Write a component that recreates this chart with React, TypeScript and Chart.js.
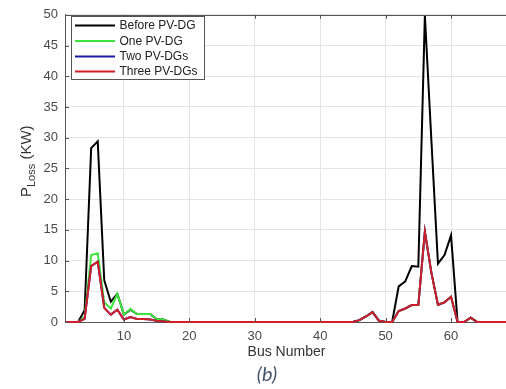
import React, { useEffect, useRef } from 'react';
import { Chart, registerables } from 'chart.js';

Chart.register(...registerables);

const busNumbers = [
  1, 2, 3, 4, 5, 6, 7, 8, 9, 10, 11, 12, 13, 14, 15, 16, 17, 18, 19, 20,
  21, 22, 23, 24, 25, 26, 27, 28, 29, 30, 31, 32, 33, 34, 35, 36, 37, 38, 39, 40,
  41, 42, 43, 44, 45, 46, 47, 48, 49, 50, 51, 52, 53, 54, 55, 56, 57, 58, 59, 60,
  61, 62, 63, 64, 65, 66, 67, 68, 69,
];

const beforePVDG = [
  0, 0, 0, 1.9, 28.3, 29.4, 6.8, 3.3, 4.6, 1.2, 2.0, 1.3, 1.3, 1.3, 0.5, 0.4, 0.05, 0, 0, 0,
  0, 0, 0, 0, 0, 0, 0, 0, 0, 0, 0, 0, 0, 0, 0, 0, 0, 0, 0, 0,
  0, 0, 0, 0, 0, 0.3, 0.9, 1.6, 0.2, 0, 0, 5.8, 6.6, 9.1, 9.0, 49.9, 29.5, 9.5, 10.9, 14.1,
  0, 0, 0.7, 0, 0, 0, 0, 0, 0,
];

const onePVDG = [
  0, 0, 0, 0.8, 10.9, 11.2, 3.2, 2.2, 4.6, 1.2, 2.1, 1.3, 1.3, 1.3, 0.5, 0.4, 0.05, 0, 0, 0,
  0, 0, 0, 0, 0, 0, 0, 0, 0, 0, 0, 0, 0, 0, 0, 0, 0, 0, 0, 0,
  0, 0, 0, 0, 0, 0.3, 0.9, 1.6, 0.2, 0, 0, 1.8, 2.2, 2.75, 2.75, 14.7, 8.0, 2.8, 3.2, 4.1,
  0, 0, 0.7, 0, 0, 0, 0, 0, 0,
];

const twoPVDGs = [
  0, 0, 0, 0.5, 9.1, 9.8, 2.3, 1.2, 2.0, 0.4, 0.8, 0.5, 0.5, 0.4, 0.2, 0.1, 0, 0, 0, 0,
  0, 0, 0, 0, 0, 0, 0, 0, 0, 0, 0, 0, 0, 0, 0, 0, 0, 0, 0, 0,
  0, 0, 0, 0, 0, 0.3, 0.9, 1.6, 0.2, 0, 0, 1.8, 2.2, 2.75, 2.75, 14.7, 8.0, 2.8, 3.2, 4.1,
  0, 0, 0.7, 0, 0, 0, 0, 0, 0,
];

const threePVDGs = [
  0, 0, 0, 0.5, 9.1, 9.8, 2.3, 1.2, 2.0, 0.4, 0.8, 0.5, 0.5, 0.4, 0.2, 0.1, 0, 0, 0, 0,
  0, 0, 0, 0, 0, 0, 0, 0, 0, 0, 0, 0, 0, 0, 0, 0, 0, 0, 0, 0,
  0, 0, 0, 0, 0, 0.3, 0.9, 1.6, 0.2, 0, 0, 1.8, 2.2, 2.75, 2.75, 14.7, 8.0, 2.8, 3.2, 4.1,
  0, 0, 0.7, 0, 0, 0, 0, 0, 0,
];

const xTickValues = [10, 20, 30, 40, 50, 60];
const yTickValues = [0, 5, 10, 15, 20, 25, 30, 35, 40, 45, 50];
const seriesLabels = ['Before PV-DG', 'One PV-DG', 'Two PV-DGs', 'Three PV-DGs'];
const seriesColors = ['#000000', '#3ce33c', '#1a1aa6', '#d11f29'];
const seriesValues = [beforePVDG, onePVDG, twoPVDGs, threePVDGs];
const xTitle = 'Bus Number';
const captionText = '(b)';

const FONT = '"Liberation Sans", Arial, sans-serif';

const decorPlugin = {
  id: 'decor',
  afterDraw(chart: any) {
    const ctx = chart.ctx;
    const ca = chart.chartArea;
    const xs = chart.scales.x;
    const ys = chart.scales.y;
    ctx.save();
    // top border
    ctx.strokeStyle = '#555';
    ctx.lineWidth = 1;
    ctx.beginPath();
    ctx.moveTo(ca.left, Math.round(ca.top) + 0.5);
    ctx.lineTo(ca.right, Math.round(ca.top) + 0.5);
    ctx.stroke();
    // inward tick marks
    ctx.beginPath();
    xTickValues.forEach((v) => {
      const px = Math.round(xs.getPixelForValue(v)) + 0.5;
      ctx.moveTo(px, ca.bottom);
      ctx.lineTo(px, ca.bottom - 4);
      ctx.moveTo(px, ca.top);
      ctx.lineTo(px, ca.top + 4);
    });
    yTickValues.forEach((v) => {
      const py = Math.round(ys.getPixelForValue(v)) + 0.5;
      ctx.moveTo(ca.left, py);
      ctx.lineTo(ca.left + 4, py);
    });
    ctx.stroke();

    // legend
    const lx = 71.5, ly = 16.5, lw = 133, lh = 63;
    ctx.fillStyle = '#ffffff';
    ctx.fillRect(lx, ly, lw, lh);
    ctx.strokeStyle = '#555';
    ctx.strokeRect(lx, ly, lw, lh);
    const rows = [25.5, 41, 56.5, 71.5];
    ctx.font = '12px ' + FONT;
    ctx.textBaseline = 'middle';
    ctx.textAlign = 'left';
    chart.data.datasets.forEach((ds: any, i: number) => {
      ctx.strokeStyle = ds.borderColor;
      ctx.lineWidth = 2;
      ctx.beginPath();
      ctx.moveTo(75, rows[i]);
      ctx.lineTo(115, rows[i]);
      ctx.stroke();
      ctx.fillStyle = '#222';
      ctx.fillText(ds.label, 119.5, rows[i] + 0.5);
    });

    // y title with subscript
    ctx.save();
    ctx.translate(31, 197);
    ctx.rotate(-Math.PI / 2);
    ctx.fillStyle = '#333';
    ctx.textBaseline = 'alphabetic';
    ctx.textAlign = 'left';
    ctx.font = '15px ' + FONT;
    ctx.fillText('P', 0, 0);
    let off = ctx.measureText('P').width;
    ctx.font = '11px ' + FONT;
    ctx.fillText('Loss', off, 4);
    off += ctx.measureText('Loss').width;
    ctx.font = '15px ' + FONT;
    ctx.fillText(' (KW)', off, 0);
    ctx.restore();

    // x title
    ctx.fillStyle = '#333';
    ctx.font = '14px ' + FONT;
    ctx.textAlign = 'center';
    ctx.textBaseline = 'middle';
    ctx.fillText(xTitle, (ca.left + ca.right) / 2 + 1, 352);

    // caption
    ctx.fillStyle = '#44546a';
    ctx.font = 'italic 20px Lato, "Open Sans", sans-serif';
    ctx.fillText(captionText, 267, 375);
    ctx.restore();
  },
};

export default function App() {
  const canvasRef = useRef<HTMLCanvasElement | null>(null);

  useEffect(() => {
    if (!canvasRef.current) return;
    const orders = [4, 3, 2, 1];
    const chart = new Chart(canvasRef.current, {
      type: 'line',
      data: {
        datasets: seriesLabels.map((label, i) => ({
          label,
          data: busNumbers.map((b, j) => ({ x: b, y: seriesValues[i][j] })),
          borderColor: seriesColors[i],
          backgroundColor: seriesColors[i],
          borderWidth: 2,
          pointRadius: 0,
          tension: 0,
          fill: false,
          order: orders[i],
          clip: { left: 0, right: 0, top: 3, bottom: 3 },
        })),
      },
      options: {
        responsive: false,
        animation: false,
        layout: { padding: { top: 13, left: 0, right: 0, bottom: 0 } },
        plugins: {
          legend: { display: false },
          tooltip: { enabled: false },
          title: { display: false },
        },
        scales: {
          x: {
            type: 'linear',
            min: 1,
            max: 68.4,
            afterBuildTicks: (s: any) => {
              s.ticks = xTickValues.map((v) => ({ value: v }));
            },
            afterFit: (s: any) => {
              s.height = 67;
            },
            grid: { color: '#e4e4e4', drawTicks: false, lineWidth: 1 },
            border: { color: '#555', width: 1 },
            ticks: {
              color: '#4a4a4a',
              font: { family: FONT, size: 13 },
              padding: 7,
              maxRotation: 0,
              autoSkip: false,
            },
          },
          y: {
            type: 'linear',
            min: 0,
            max: 50,
            afterBuildTicks: (s: any) => {
              s.ticks = yTickValues.map((v) => ({ value: v }));
            },
            afterFit: (s: any) => {
              s.width = 65;
            },
            grid: { color: '#e4e4e4', drawTicks: false, lineWidth: 1 },
            border: { color: '#555', width: 1 },
            ticks: {
              color: '#4a4a4a',
              font: { family: FONT, size: 13 },
              padding: 7,
              autoSkip: false,
            },
          },
        },
      },
      plugins: [decorPlugin],
    } as any);
    return () => chart.destroy();
  }, []);

  return (
    <div style={{ position: 'absolute', left: 0, top: 0, width: 506, height: 389, background: '#fff' }}>
      <canvas ref={canvasRef} width={506} height={389} style={{ display: 'block' }} />
    </div>
  );
}
